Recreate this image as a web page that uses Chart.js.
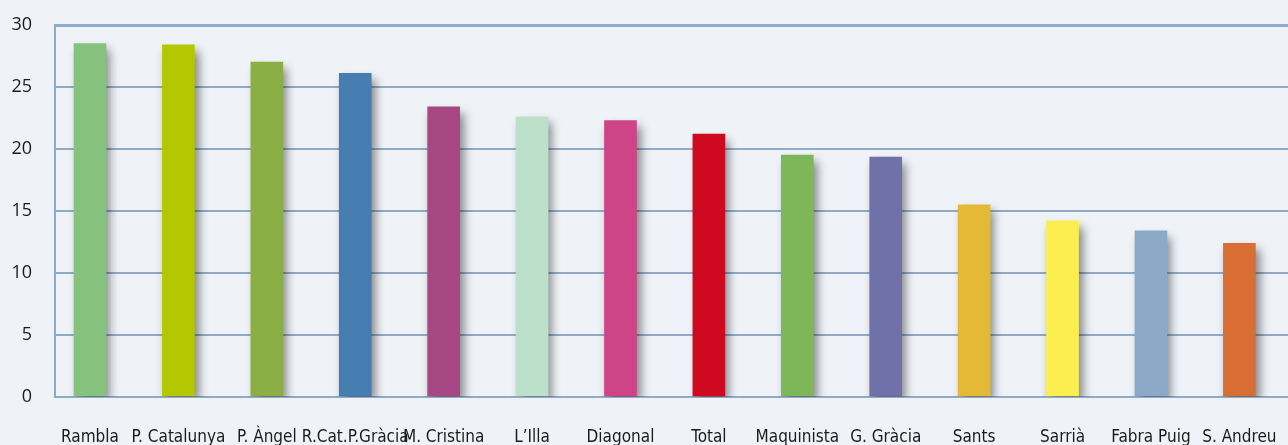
<!DOCTYPE html>
<html>
<head>
<meta charset="utf-8">
<script src="https://cdn.jsdelivr.net/npm/chart.js@4/dist/chart.umd.min.js"></script>
<style>
  html, body { margin: 0; padding: 0; background: #eff2f7; }
  #wrap { width: 1288px; height: 445px; position: relative; }
</style>
</head>
<body>
<div id="wrap"><canvas id="chart"></canvas></div>
<script>
const categories = ["Rambla", "P. Catalunya", "P. Àngel", "R.Cat.P.Gràcia", "M. Cristina", "L\u2019Illa",
  "Diagonal", "Total", "Maquinista", "G. Gràcia", "Sants", "Sarrià", "Fabra Puig", "S. Andreu"];
const values = [28.5, 28.4, 27.0, 26.1, 23.4, 22.6, 22.3, 21.2, 19.5, 19.35, 15.5, 14.2, 13.4, 12.4];
const barColors = ["#86c17e", "#b3c800", "#8caf45", "#477eb1", "#a84883", "#bde0cb", "#cf4486",
  "#cf0920", "#7eb65a", "#7171a9", "#e3b935", "#fdee4f", "#8aaac8", "#d86e33"];
const yTicks = [0, 5, 10, 15, 20, 25, 30];

const lineColor = "#8fabc8";

// soft drop shadow behind the bars
const barShadow = {
  id: "barShadow",
  beforeDatasetsDraw(chart) {
    const ctx = chart.ctx;
    ctx.save();
    ctx.shadowColor = "rgba(0, 0, 0, 0.45)";
    ctx.shadowBlur = 9;
    ctx.shadowOffsetX = 4;
    ctx.shadowOffsetY = 6;
  },
  afterDatasetsDraw(chart) {
    chart.ctx.restore();
  },
};

const ctx = document.getElementById("chart").getContext("2d");
new Chart(ctx, {
  type: "bar",
  data: {
    datasets: [
      {
        data: values.map((v, i) => ({ x: i, y: v })),
        backgroundColor: barColors,
        borderWidth: 0,
        barThickness: 32,
      },
    ],
  },
  options: {
    responsive: true,
    maintainAspectRatio: false,
    animation: false,
    layout: { padding: { top: 25, right: 0, bottom: 0, left: 0 } },
    plugins: {
      legend: { display: false },
      tooltip: { enabled: false },
    },
    scales: {
      x: {
        type: "linear",
        offset: false,
        min: -0.396,
        max: 13.55,
        grid: { display: false, drawTicks: false },
        border: { display: true, color: lineColor, width: 2 },
        ticks: {
          stepSize: 1,
          includeBounds: false,
          autoSkip: false,
          maxRotation: 0,
          padding: 30,
          color: "#1b1b1b",
          font: { family: "'Liberation Sans Narrow', 'DejaVu Sans Condensed', sans-serif", size: 17 },
          callback: (v) => categories[v] ?? "",
        },
        afterFit: (scale) => {
          scale.height = 48;
          scale.paddingLeft = 0;
          scale.paddingRight = 0;
        },
      },
      y: {
        min: 0,
        max: 30,
        afterBuildTicks: (scale) => { scale.ticks = yTicks.map((v) => ({ value: v })); },
        grid: {
          color: lineColor,
          lineWidth: (c) => (c.tick && c.tick.value === 30 ? 3 : 2),
          drawTicks: false,
        },
        border: { display: true, color: lineColor, width: 2 },
        ticks: {
          padding: 23,
          color: "#1b1b1b",
          font: { family: "'Open Sans', sans-serif", size: 18 },
        },
        afterFit: (scale) => {
          scale.width = 55;
          scale.paddingTop = 0;
          scale.paddingBottom = 0;
        },
      },
    },
  },
  plugins: [barShadow],
});
</script>
</body>
</html>
